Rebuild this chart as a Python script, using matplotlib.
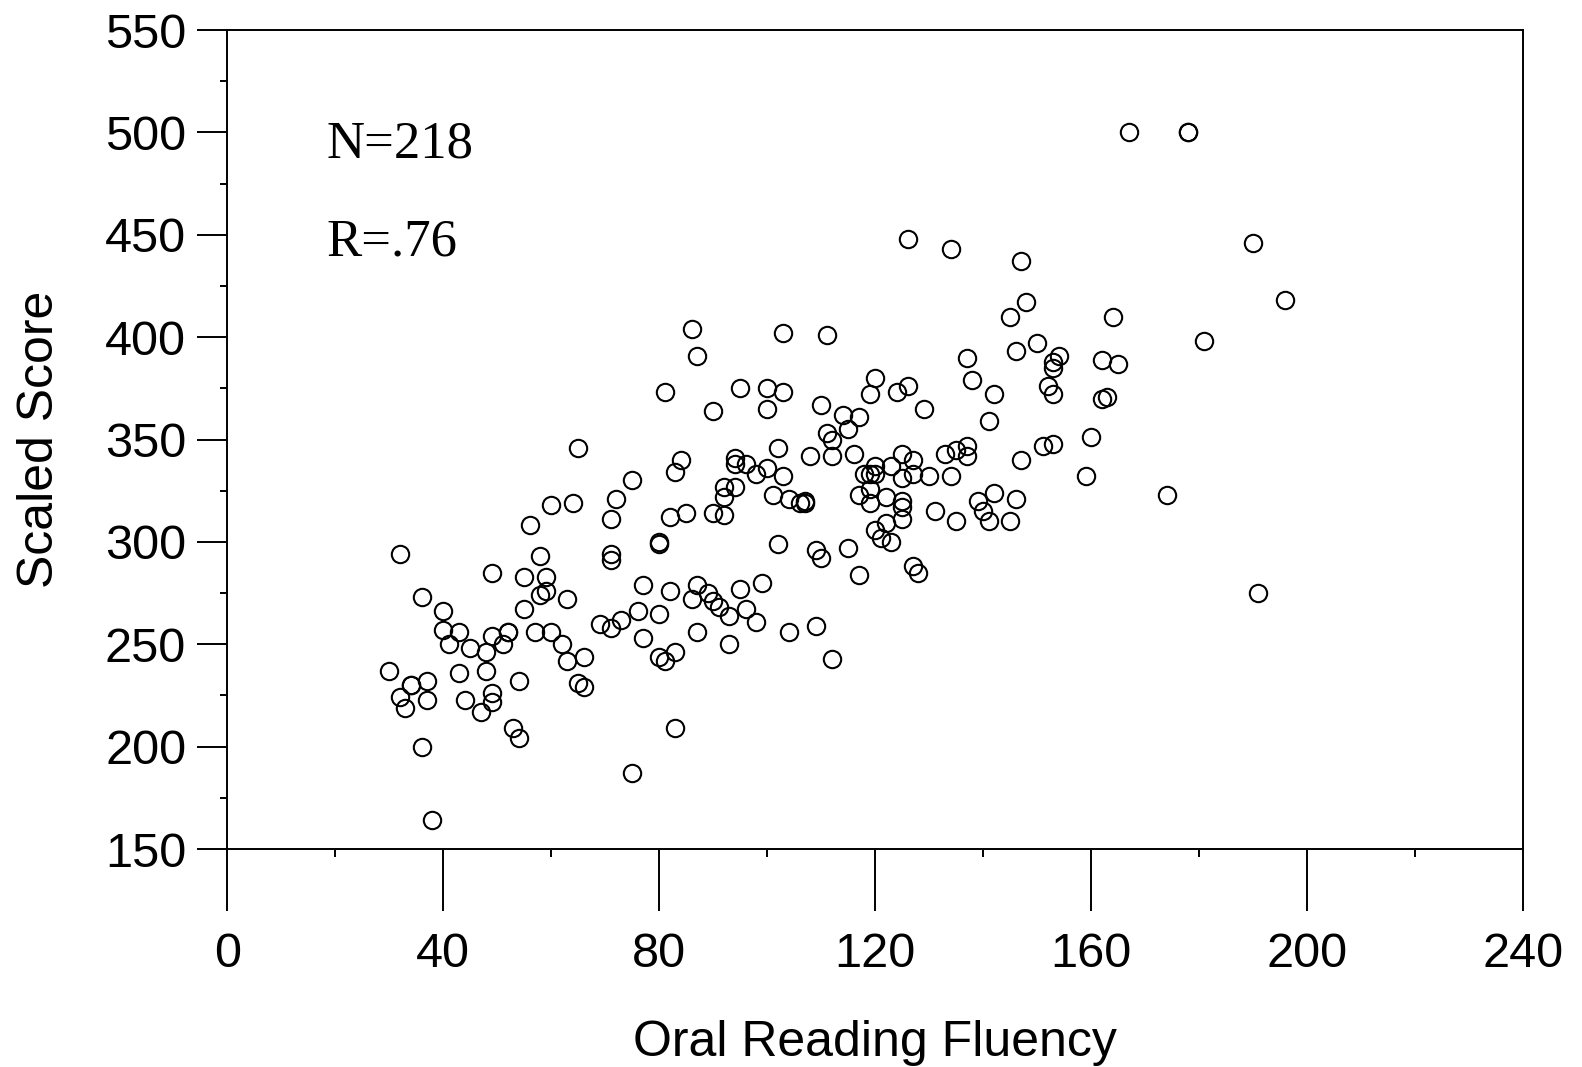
import matplotlib.pyplot as plt
from matplotlib.ticker import MultipleLocator

# oral reading fluency (x) vs scaled score (y)
orf = [30, 32, 32, 33, 34, 34, 36, 36, 37, 37, 38, 40, 40, 41, 43, 43, 44, 45, 47, 48,
       48, 49, 49, 49, 49, 51, 52, 52, 53, 54, 54, 55, 55, 56, 57, 58, 58, 59, 59, 60,
       60, 62, 63, 63, 64, 65, 65, 66, 66,
       69, 71, 71, 71, 71, 72, 73, 75, 75, 76, 77, 77, 80, 80, 80, 81, 81, 80, 82, 82,
       83, 83, 83, 84, 85, 86, 86, 87, 87, 87, 89, 90, 90, 90, 91, 92, 92, 92, 93, 93,
       94, 94, 94, 95, 95, 96, 96, 98, 98, 99, 100, 100, 100, 101, 102, 102, 103, 103, 103,
       104, 104,
       106, 107, 107, 108, 109, 109, 110, 110, 111, 111, 112, 112, 112, 114, 115, 115, 116,
       117, 117, 117, 118, 119, 119, 119, 119, 120, 120, 120, 120, 121, 122, 122, 123, 123,
       124, 125, 125, 125, 125, 125, 126, 126, 127, 127, 127, 128, 129, 130, 131, 133, 134,
       134, 135, 135, 137, 137, 137, 138, 139, 140, 141, 141, 142, 142, 145, 145, 146, 146,
       147, 147, 148, 150, 151, 152, 153, 153, 153, 153, 154, 159, 160, 162, 162, 163, 164,
       165, 167, 178, 178, 174, 181, 190, 191, 196]
score = [237, 294, 224, 219, 230, 230, 273, 200, 232, 223, 164, 266, 257, 250, 256, 236, 223, 248, 217, 246,
         237, 222, 226, 285, 254, 250, 256, 256, 209, 204, 232, 267, 283, 308, 256, 293, 274, 283, 276, 256,
         318, 250, 242, 272, 319, 346, 231, 229, 244,
         260, 258, 294, 291, 311, 321, 262, 187, 330, 266, 253, 279, 299, 265, 244, 242, 373, 300, 312, 276,
         246, 334, 209, 340, 314, 272, 404, 391, 256, 279, 275, 364, 314, 271, 268, 322, 327, 313, 264, 250,
         338, 341, 327, 375, 277, 267, 338, 333, 261, 280, 336, 365, 375, 323, 346, 299, 332, 402, 373,
         256, 321,
         319, 319, 320, 342, 259, 296, 367, 292, 401, 353, 350, 342, 243, 362, 355, 297, 343,
         361, 284, 323, 333, 326, 319, 333, 372, 306, 380, 337, 333, 302, 309, 322, 300, 337,
         373, 331, 343, 320, 317, 311, 448, 376, 340, 288, 333, 285, 365, 332, 315, 343, 332,
         443, 345, 310, 347, 342, 390, 379, 320, 315, 310, 359, 372, 324, 310, 410, 393, 321,
         437, 340, 417, 397, 347, 376, 388, 385, 372, 348, 391, 332, 351, 389, 370, 371, 410,
         387, 500, 500, 500, 323, 398, 446, 275, 418]

x_ticks = [0, 40, 80, 120, 160, 200, 240]
y_ticks = [150, 200, 250, 300, 350, 400, 450, 500, 550]

plt.rcParams['font.family'] = ['Liberation Sans', 'DejaVu Sans']

fig = plt.figure(figsize=(15.82, 10.67), dpi=100)
ax = fig.add_axes([0.14368, 0.20431, 0.81903, 0.76757])

ax.plot(orf, score, linestyle='none', marker='o', ms=12.5, mfc='none',
        mec='black', mew=1.5)

ax.set_xlim(0, 240)
ax.set_ylim(150, 550)
ax.set_xticks(x_ticks)
ax.set_yticks(y_ticks)
ax.xaxis.set_minor_locator(MultipleLocator(20))
ax.yaxis.set_minor_locator(MultipleLocator(25))

for s in ax.spines.values():
    s.set_linewidth(1.4)

ax.tick_params(axis='both', which='both', direction='out', width=1.4, labelsize=35)
ax.tick_params(axis='x', which='major', length=44.6, pad=15)
ax.tick_params(axis='x', which='minor', length=5.8)
ax.tick_params(axis='y', which='major', length=21.6, pad=8)
ax.tick_params(axis='y', which='minor', length=5)

ax.set_xlabel('Oral Reading Fluency', fontsize=36, labelpad=31)
ax.set_ylabel('Scaled Score', fontsize=36, labelpad=30)

ax.text(18.3, 487.5, 'N=218', fontsize=38, family=['Liberation Serif'], va='baseline')
ax.text(18.3, 440, 'R=.76', fontsize=38, family=['Liberation Serif'], va='baseline')

fig.savefig('out.png', dpi=100)
